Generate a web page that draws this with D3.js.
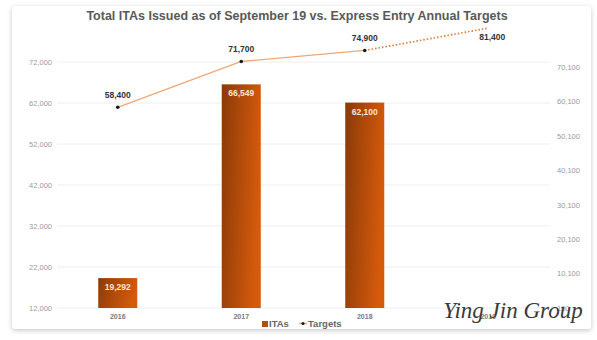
<!DOCTYPE html>
<html><head><meta charset="utf-8">
<script src="https://cdn.jsdelivr.net/npm/d3@7"></script>
<style>
html,body{margin:0;padding:0;background:#fff;}
svg{display:block;font-family:"Liberation Sans",Arial,sans-serif;}
</style></head>
<body>
<svg id="c" width="597" height="340"></svg>
<script>
const categories = ["2016","2017","2018","2019"];
const itaYears = ["2016","2017","2018"];
const itaValues = [19292, 66549, 62100];
const targetValues = [58400, 71700, 74900, 81400];
const leftTicks = [12000, 22000, 32000, 42000, 52000, 62000, 72000];
const rightTicks = [100, 10100, 20100, 30100, 40100, 50100, 60100, 70100];
const titleText = "Total ITAs Issued as of September 19 vs. Express Entry Annual Targets";
const legendLabels = ["ITAs", "Targets"];
const watermark = "Ying Jin Group";

const svg = d3.select("#c");
const defs = svg.append("defs");
const sh = defs.append("filter").attr("id","sh").attr("x","-5%").attr("y","-5%").attr("width","110%").attr("height","115%");
sh.append("feDropShadow").attr("dx",0).attr("dy",1.5).attr("stdDeviation",2.5).attr("flood-color","#000").attr("flood-opacity",0.22);
const g1 = defs.append("linearGradient").attr("id","bg").attr("x1","0").attr("y1","0").attr("x2","1").attr("y2","0.25");
g1.append("stop").attr("offset","0").attr("stop-color","#8a3a08");
g1.append("stop").attr("offset","1").attr("stop-color","#d45a0c");

// card
svg.append("rect").attr("x",12).attr("y",6).attr("width",579).attr("height",323).attr("rx",4)
  .attr("fill","#fff").attr("filter","url(#sh)");

const x = d3.scaleBand().domain(categories).range([56,550]).padding(0);
const yL = d3.scaleLinear().domain([12000,72000]).range([308,62]);
const yR = d3.scaleLinear().domain([100,70100]).range([308,67]);
const barW = x.bandwidth()*0.316;

// gridlines
svg.append("g").selectAll("line").data(leftTicks).join("line")
  .attr("x1",57).attr("x2",550).attr("y1",d=>yL(d)).attr("y2",d=>yL(d))
  .attr("stroke","#eeeeee").attr("stroke-width",1);

// left axis
const axL = svg.append("g").attr("transform","translate(52,0)")
  .call(d3.axisLeft(yL).tickValues(leftTicks).tickSize(0).tickPadding(0).tickFormat(d3.format(",")));
axL.select(".domain").remove();
axL.selectAll("text").attr("fill","#9a9a9a").attr("font-size","7.5px").attr("dy","0.32em");

// right axis
const axR = svg.append("g").attr("transform","translate(557,0)")
  .call(d3.axisRight(yR).tickValues(rightTicks).tickSize(0).tickPadding(0).tickFormat(d3.format(",")));
axR.select(".domain").remove();
axR.selectAll("text").attr("fill","#9a9a9a").attr("font-size","7.5px").attr("dy","0.32em");

// x axis labels
svg.append("g").selectAll("text").data(categories).join("text")
  .attr("x",d=>x(d)+x.bandwidth()/2).attr("y",319).attr("text-anchor","middle")
  .attr("font-size","7px").attr("font-weight","bold").attr("fill","#7a7a7a").text(d=>d);

// bars
svg.append("g").selectAll("rect").data(itaYears).join("rect")
  .attr("x",d=>x(d)+x.bandwidth()/2-barW/2).attr("width",barW)
  .attr("y",(d,i)=>yL(itaValues[i])).attr("height",(d,i)=>yL(12000)-yL(itaValues[i]))
  .attr("fill","url(#bg)");
svg.append("g").selectAll("text").data(itaYears).join("text")
  .attr("x",d=>x(d)+x.bandwidth()/2).attr("y",(d,i)=>yL(itaValues[i])+12)
  .attr("text-anchor","middle").attr("font-size","8.5px").attr("font-weight","bold").attr("fill","#fbe6d6")
  .text((d,i)=>d3.format(",")(itaValues[i]));

// target line
const pts = categories.map((c,i)=>[x(c)+x.bandwidth()/2, yR(targetValues[i])]);
const line = d3.line();
svg.append("path").attr("d",line(pts.slice(0,3))).attr("fill","none").attr("stroke","#eea878").attr("stroke-width",1.3);
svg.append("path").attr("d",line(pts.slice(2,4))).attr("fill","none").attr("stroke","#e0782e").attr("stroke-width",1.6)
  .attr("stroke-dasharray","1.5,2");
svg.append("g").selectAll("circle").data(pts.slice(0,3)).join("circle")
  .attr("cx",d=>d[0]).attr("cy",d=>d[1]).attr("r",1.8).attr("fill","#1a1a1a");
svg.append("g").selectAll("text").data(pts).join("text")
  .attr("x",(d,i)=>i===3 ? d[0]+4 : d[0])
  .attr("y",(d,i)=>i===3 ? d[1]+12 : d[1]-9).attr("text-anchor","middle")
  .attr("font-size","8.5px").attr("font-weight","bold").attr("fill","#333")
  .text((d,i)=>d3.format(",")(targetValues[i]));

// title
svg.append("text").attr("x",297).attr("y",20).attr("text-anchor","middle")
  .attr("font-size","12.5px").attr("font-weight","bold").attr("fill","#595959").text(titleText);

// legend
const lg = svg.append("g").attr("transform","translate(262,327)");
lg.append("rect").attr("x",0).attr("y",-6).attr("width",6).attr("height",6).attr("fill","#b84c0a");
lg.append("text").attr("x",7).attr("y",0).attr("font-size","9.5px").attr("font-weight","bold").attr("fill","#666").text(legendLabels[0]);
lg.append("line").attr("x1",37).attr("x2",45).attr("y1",-3.5).attr("y2",-3.5).attr("stroke","#eea878").attr("stroke-width",1.3);
lg.append("circle").attr("cx",41).attr("cy",-3.5).attr("r",1.6).attr("fill","#1a1a1a");
lg.append("text").attr("x",46).attr("y",0).attr("font-size","9.5px").attr("font-weight","bold").attr("fill","#666").text(legendLabels[1]);

// watermark
svg.append("text").attr("x",513).attr("y",318).attr("text-anchor","middle")
  .attr("font-family","'Liberation Serif',serif").attr("font-style","italic")
  .attr("font-size","23px").attr("fill","#3a3a3a").text(watermark);
</script>
</body></html>
